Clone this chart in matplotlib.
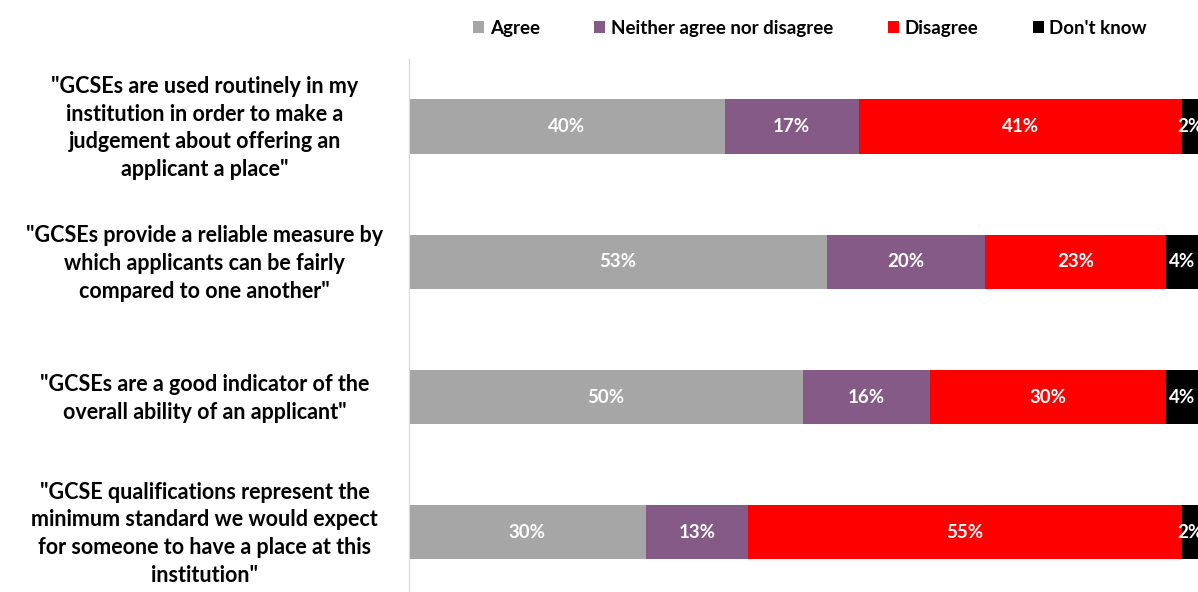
import matplotlib.pyplot as plt
import matplotlib.transforms as mtransforms
import numpy as np

plt.rcParams['font.family'] = ['Lato', 'DejaVu Sans']

statements = [
    '"GCSEs are used routinely in my\ninstitution in order to make a\njudgement about offering an\napplicant a place"',
    '"GCSEs provide a reliable measure by\nwhich applicants can be fairly\ncompared to one another"',
    '"GCSEs are a good indicator of the\noverall ability of an applicant"',
    '"GCSE qualifications represent the\nminimum standard we would expect\nfor someone to have a place at this\ninstitution"',
]
responses = ['Agree', 'Neither agree nor disagree', 'Disagree', "Don't know"]
agree = [40, 53, 50, 30]
neither = [17, 20, 16, 13]
disagree = [41, 23, 30, 55]
dont_know = [2, 4, 4, 2]

colors = ['#a6a6a6', '#855a87', '#ff0000', '#000000']

fig = plt.figure(figsize=(11.98, 5.92), dpi=100)
# plot area runs a little past the bottom edge so the bar spacing fits
ax = fig.add_axes([0.3414, -0.0135, 0.6586, 0.914])

y = np.arange(len(statements))
left = np.zeros(len(statements))
for name, vals, c in zip(responses, [agree, neither, disagree, dont_know], colors):
    vals = np.array(vals, dtype=float)
    bars = ax.barh(y, vals, left=left, height=0.4, color=c, label=name)
    for b, v in zip(bars, vals):
        ax.text(b.get_x() + b.get_width() / 2, b.get_y() + b.get_height() / 2,
                f'{v:.0f}%', ha='center', va='center', color='white',
                fontsize=13.5, fontweight='bold')
    left += vals

ax.set_xlim(0, 100)
ax.set_ylim(len(statements) - 0.5, -0.5)
ax.set_yticks(y)
ax.set_yticklabels(statements, fontsize=15.5, fontweight='bold', ha='center',
                   linespacing=1.4)
ax.tick_params(axis='y', length=0, pad=147)
# nudge the statement labels up a few pixels
shift = mtransforms.ScaledTranslation(0, 4 / 100, fig.dpi_scale_trans)
for lbl in ax.get_yticklabels():
    lbl.set_transform(lbl.get_transform() + shift)
ax.set_xticks([])
for s in ['top', 'right', 'bottom']:
    ax.spines[s].set_visible(False)
ax.spines['left'].set_color('#d9d9d9')

fig.legend(loc='center', bbox_to_anchor=(0.676, 0.952), ncol=4, frameon=False,
           prop={'size': 13.5, 'weight': 'bold'}, handlelength=0.6,
           handleheight=0.6, handletextpad=0.3, columnspacing=2.9)

fig.savefig('out.png', dpi=100)
